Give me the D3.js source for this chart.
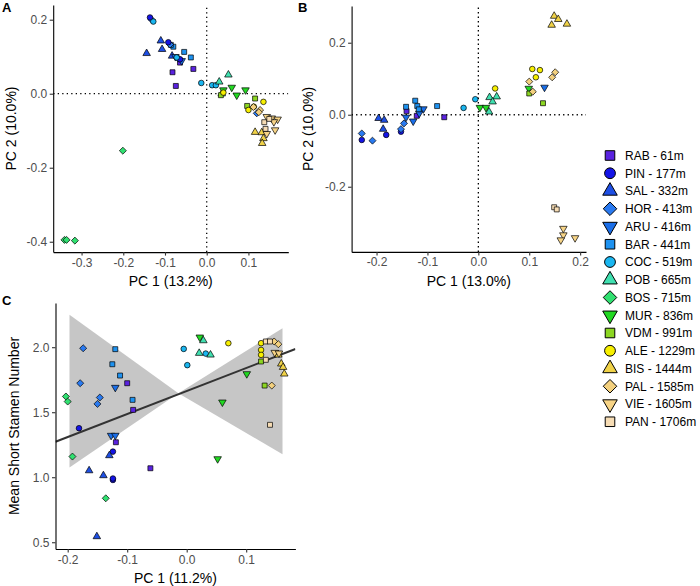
<!DOCTYPE html>
<html><head><meta charset="utf-8">
<script src="https://cdn.jsdelivr.net/npm/d3@7"></script>
<style>
html,body{margin:0;padding:0;background:#fff;}
svg{display:block;font-family:"Liberation Sans",Arial,Helvetica,sans-serif;}
</style></head>
<body><svg id="chart" width="700" height="586"></svg>
<script>
// ---------- data ----------
const sites = ["RAB","PIN","SAL","HOR","ARU","BAR","COC","POB","BOS","MUR","VDM","ALE","BIS","PAL","VIE","PAN"];
const elevations = [61,177,332,413,416,441,519,665,715,836,991,1229,1444,1585,1605,1706];
const siteColors = ["#5a22e0","#1414e6","#1e4fe4","#2a7af0","#1a6ee8","#1e92f0","#1ab6f0","#40e0b0","#30e070","#22d822","#8cd622","#f7ef00","#f0d248","#f3d07e","#f7d486","#f6dcb4"];
const siteShapes = ["square","circle","triUp","diamond","triDown","square","circle","triUp","diamond","triDown","square","circle","triUp","diamond","triDown","square"];

const pcaA = [
 ["RAB",-0.082,0.058],["RAB",-0.032,0.067],["RAB",-0.074,0.021],["RAB",-0.064,0.084],
 ["SAL",-0.144,0.109],["SAL",-0.110,0.143],["SAL",-0.107,0.120],["SAL",-0.083,0.102],
 ["BAR",-0.080,0.127],["BAR",-0.054,0.113],["BAR",-0.038,0.098],["BAR",-0.086,0.132],
 ["ARU",-0.075,0.100],["ARU",-0.060,0.089],
 ["HOR",-0.132,0.200],["HOR",-0.088,0.133],["HOR",-0.068,0.095],["HOR",0.120,-0.053],
 ["PIN",-0.136,0.206],["PIN",-0.092,0.139],["PIN",-0.064,0.093],
 ["COC",-0.128,0.195],["COC",-0.013,0.029],["COC",0.013,0.023],["COC",0.022,0.023],["COC",-0.072,0.098],
 ["POB",0.030,0.032],["POB",0.052,0.051],["POB",0.036,0.000],
 ["BOS",-0.201,-0.154],["BOS",-0.341,-0.395],["BOS",-0.336,-0.395],["BOS",-0.316,-0.397],
 ["MUR",0.040,0.010],["MUR",0.060,0.017],["MUR",0.072,-0.004],["MUR",0.093,0.010],
 ["VDM",0.034,-0.004],["VDM",0.116,-0.013],["VDM",0.097,-0.033],
 ["ALE",0.040,0.003],["ALE",0.136,-0.022],["ALE",0.100,-0.044],["ALE",0.113,-0.035],
 ["BIS",0.116,-0.104],["BIS",0.132,-0.105],["BIS",0.136,-0.121],["BIS",0.133,-0.134],
 ["PAL",0.128,-0.044],["PAL",0.112,-0.036],["PAL",0.125,-0.050],
 ["VIE",0.144,-0.062],["VIE",0.156,-0.066],["VIE",0.170,-0.069],["VIE",0.161,-0.076],["VIE",0.164,-0.098],["VIE",0.144,-0.108],
 ["PAN",0.138,-0.077],["PAN",0.141,-0.095],["PAN",0.150,-0.068]
];
const pcaB = [
 ["RAB",-0.141,0.010],["RAB",-0.067,-0.007],["RAB",-0.121,-0.003],
 ["PIN",-0.229,-0.070],["PIN",-0.181,-0.056],["PIN",-0.152,-0.047],
 ["SAL",-0.196,-0.010],["SAL",-0.185,-0.015],["SAL",-0.187,-0.040],
 ["HOR",-0.229,-0.052],["HOR",-0.208,-0.072],["HOR",-0.146,-0.024],["HOR",-0.152,-0.040],
 ["ARU",-0.142,-0.007],["ARU",-0.128,-0.018],["ARU",-0.108,0.016],["ARU",-0.116,0.004],["ARU",0.130,0.076],
 ["BAR",-0.142,0.022],["BAR",-0.124,0.039],["BAR",-0.120,0.024],["BAR",-0.117,0.015],["BAR",-0.081,0.024],
 ["COC",-0.006,0.043],["COC",-0.029,0.019],
 ["POB",0.022,0.048],["POB",0.036,0.050],["POB",0.021,0.008],["POB",0.028,0.036],
 ["MUR",0.003,0.020],["MUR",0.015,0.020],["MUR",0.099,0.073],
 ["VDM",0.100,0.059],["VDM",0.127,0.032],
 ["ALE",0.033,0.073],["ALE",0.106,0.127],["ALE",0.121,0.124],["ALE",0.113,0.104],
 ["BIS",0.149,0.274],["BIS",0.157,0.265],["BIS",0.144,0.249],["BIS",0.174,0.252],
 ["PAL",0.100,0.092],["PAL",0.151,0.118],["PAL",0.145,0.104],["PAL",0.107,0.064],
 ["VIE",0.167,-0.316],["VIE",0.167,-0.334],["VIE",0.162,-0.348],["VIE",0.190,-0.342],
 ["PAN",0.149,-0.257],["PAN",0.154,-0.263]
];
const stamenC = [
 ["RAB",-0.100,1.723],["RAB",-0.090,1.518],["RAB",-0.119,1.269],["RAB",-0.061,1.069],
 ["PIN",-0.181,1.377],["PIN",-0.124,1.197],["PIN",-0.124,0.979],["PIN",-0.124,0.990],
 ["SAL",-0.164,1.051],["SAL",-0.140,1.013],["SAL",-0.130,1.167],["SAL",-0.151,0.544],
 ["HOR",-0.174,1.992],["HOR",-0.179,1.723],["HOR",-0.146,1.613],["HOR",-0.150,1.564],
 ["ARU",-0.120,1.690],["ARU",-0.127,1.321],["ARU",-0.120,1.321],
 ["BAR",-0.120,1.985],["BAR",-0.125,1.869],["BAR",-0.112,1.782],["BAR",-0.091,1.595],
 ["COC",-0.005,1.987],["COC",0.001,1.862],["COC",0.032,1.951],
 ["POB",0.021,1.954],["POB",0.028,2.051],["POB",0.040,1.941],
 ["BOS",-0.203,1.621],["BOS",-0.200,1.582],["BOS",-0.192,1.159],["BOS",-0.136,0.838],
 ["MUR",0.022,2.077],["MUR",0.060,1.577],["MUR",0.052,1.141],["MUR",0.101,1.795],
 ["VDM",0.125,1.890],["VDM",0.131,1.705],
 ["ALE",0.070,2.031],["ALE",0.125,2.031],["ALE",0.125,1.979],["ALE",0.125,1.941],
 ["BIS",0.159,1.872],["BIS",0.162,1.846],["BIS",0.164,1.795],["BIS",0.154,1.941],
 ["PAL",0.147,2.044],["PAL",0.154,2.023],["PAL",0.143,1.705],
 ["VIE",0.148,1.959],["VIE",0.155,1.954],
 ["PAN",0.133,2.044],["PAN",0.140,2.044],["PAN",0.133,1.903],["PAN",0.140,1.403]
];
const ribbonX  = [-0.197, -0.014, 0.161];
const ribbonLo = [1.074, 1.645, 1.177];
const ribbonHi = [2.250, 1.645, 2.146];
const fitSlope = 1.77, fitIntercept = 1.663;

const ticksAx = [-0.3,-0.2,-0.1,0.0,0.1], ticksAy = [0.2,0.0,-0.2,-0.4];
const ticksBx = [-0.2,-0.1,0.0,0.1,0.2], ticksBy = [0.2,0.0,-0.2];
const ticksCx = [-0.2,-0.1,0.0,0.1], ticksCy = [0.5,1.0,1.5,2.0];

// ---------- drawing ----------
const svg = d3.select("#chart");
const idx = s => sites.indexOf(s);
const FONT = '"Liberation Sans",Arial,Helvetica,sans-serif';

function shapePath(shape, R){
  const p = d3.path();
  if(shape==="circle"){ p.arc(0,0,R,0,2*Math.PI); p.closePath(); }
  else if(shape==="square"){ const h=R*0.886; p.rect(-h,-h,2*h,2*h); }
  else if(shape==="diamond"){ const h=R*1.253; p.moveTo(0,-h); p.lineTo(h,0); p.lineTo(0,h); p.lineTo(-h,0); p.closePath(); }
  else { const r=R*1.555, xc=r*Math.sqrt(3)/2, yc=r/2, s=(shape==="triUp")?1:-1;
    p.moveTo(0,-s*r); p.lineTo(xc,s*yc); p.lineTo(-xc,s*yc); p.closePath(); }
  return p.toString();
}

function panel(o){
  const x = d3.scaleLinear().domain(o.xd).range(o.xr);
  const y = d3.scaleLinear().domain(o.yd).range(o.yr);
  const g = svg.append("g");
  const clipId = "clip"+o.label;
  svg.append("clipPath").attr("id",clipId).append("rect")
    .attr("x",o.xr[0]).attr("y",o.yr[1]).attr("width",o.xr[1]-o.xr[0]).attr("height",o.yr[0]-o.yr[1]);
  const inner = g.append("g").attr("clip-path",`url(#${clipId})`);
  if(o.refLines){
    inner.append("line").attr("x1",x(0)).attr("x2",x(0)).attr("y1",o.yr[0]).attr("y2",o.yr[1])
      .attr("stroke","#000").attr("stroke-width",1.3).attr("stroke-dasharray","1.3 3.2");
    inner.append("line").attr("x1",o.xr[0]).attr("x2",o.xr[1]).attr("y1",y(0)).attr("y2",y(0))
      .attr("stroke","#000").attr("stroke-width",1.3).attr("stroke-dasharray","1.3 3.2");
  }
  if(o.fit){
    inner.append("path").attr("fill","#c6c6c6")
      .attr("d", d3.line()([[x(ribbonX[0]),y(ribbonHi[0])],[x(ribbonX[1]),y(ribbonHi[1])],[x(ribbonX[0]),y(ribbonLo[0])]])+"Z");
    inner.append("path").attr("fill","#c6c6c6")
      .attr("d", d3.line()([[x(ribbonX[2]),y(ribbonHi[2])],[x(ribbonX[1]),y(ribbonLo[1])],[x(ribbonX[2]),y(ribbonLo[2])]])+"Z");
    inner.append("line").attr("x1",x(o.xd[0])).attr("y1",y(fitIntercept+fitSlope*o.xd[0]))
      .attr("x2",x(o.xd[1])).attr("y2",y(fitIntercept+fitSlope*o.xd[1]))
      .attr("stroke","#333").attr("stroke-width",2);
  }
  inner.selectAll("path.pt").data(o.data).join("path").attr("class","pt")
    .attr("transform",d=>`translate(${x(d[1])},${y(d[2])})`)
    .attr("d",d=>shapePath(siteShapes[idx(d[0])],2.8))
    .attr("fill",d=>siteColors[idx(d[0])]).attr("stroke","#000").attr("stroke-width",0.7);

  const fmt = d3.format(".1f");
  const ax = g.append("g").attr("transform",`translate(0,${o.yr[0]})`)
    .call(d3.axisBottom(x).tickValues(o.xt).tickFormat(v=>fmt(v).replace("−","-")).tickSize(3.5).tickPadding(2.5).tickSizeOuter(0));
  const ay = g.append("g").attr("transform",`translate(${o.xr[0]},0)`)
    .call(d3.axisLeft(y).tickValues(o.yt).tickFormat(v=>fmt(v).replace("−","-")).tickSize(3.5).tickPadding(2.5).tickSizeOuter(0));
  [ax,ay].forEach(a=>{
    a.select(".domain").attr("stroke","#000").attr("stroke-width",1.1);
    a.selectAll(".tick line").attr("stroke","#333").attr("stroke-width",1.1);
    a.selectAll(".tick text").attr("fill","#4d4d4d").attr("font-size",12).attr("font-family",FONT);
  });
  g.append("text").attr("x",(o.xr[0]+o.xr[1])/2).attr("y",o.xTitleY)
    .attr("text-anchor","middle").attr("font-size",14).attr("fill","#000").text(o.xTitle);
  g.append("text").attr("transform",`translate(${o.yTitleX},${(o.yr[0]+o.yr[1])/2}) rotate(-90)`)
    .attr("text-anchor","middle").attr("font-size",14).attr("fill","#000").text(o.yTitle);
  g.append("text").attr("x",o.labelX).attr("y",o.labelY).attr("font-size",13).attr("font-weight","bold").text(o.label);
}

panel({label:"A",labelX:2,labelY:12,data:pcaA,xd:[-0.368,0.1956],xr:[53.2,288.3],yd:[-0.428,0.24],yr:[252.1,4.9],
  xt:ticksAx,yt:ticksAy,refLines:true,xTitle:"PC 1 (13.2%)",xTitleY:286,yTitle:"PC 2 (10.0%)",yTitleX:16});
panel({label:"B",labelX:298,labelY:12,data:pcaB,xd:[-0.249,0.2115],xr:[351.6,586],yd:[-0.381,0.302],yr:[251.9,6],
  xt:ticksBx,yt:ticksBy,refLines:true,xTitle:"PC 1 (13.0%)",xTitleY:286,yTitle:"PC 2 (10.0%)",yTitleX:313});
panel({label:"C",labelX:2,labelY:305,data:stamenC,xd:[-0.2205,0.1827],xr:[55.5,295.4],yd:[0.448,2.34],yr:[549,303],
  xt:ticksCx,yt:ticksCy,refLines:false,fit:true,xTitle:"PC 1 (11.2%)",xTitleY:583,yTitle:"Mean Short Stamen Number",yTitleX:19});

// legend
const leg = svg.append("g");
const legY0 = 155.5, legDy = 17.75;
sites.forEach((s,i)=>{
  const yy = legY0 + i*legDy;
  leg.append("path").attr("transform",`translate(610,${yy})`).attr("d",shapePath(siteShapes[i],5.4))
    .attr("fill",siteColors[i]).attr("stroke","#000").attr("stroke-width",1);
  leg.append("text").attr("x",625).attr("y",yy+4.3).attr("font-size",12).attr("fill","#000")
    .text(`${s} - ${elevations[i]}m`);
});
</script></body></html>
